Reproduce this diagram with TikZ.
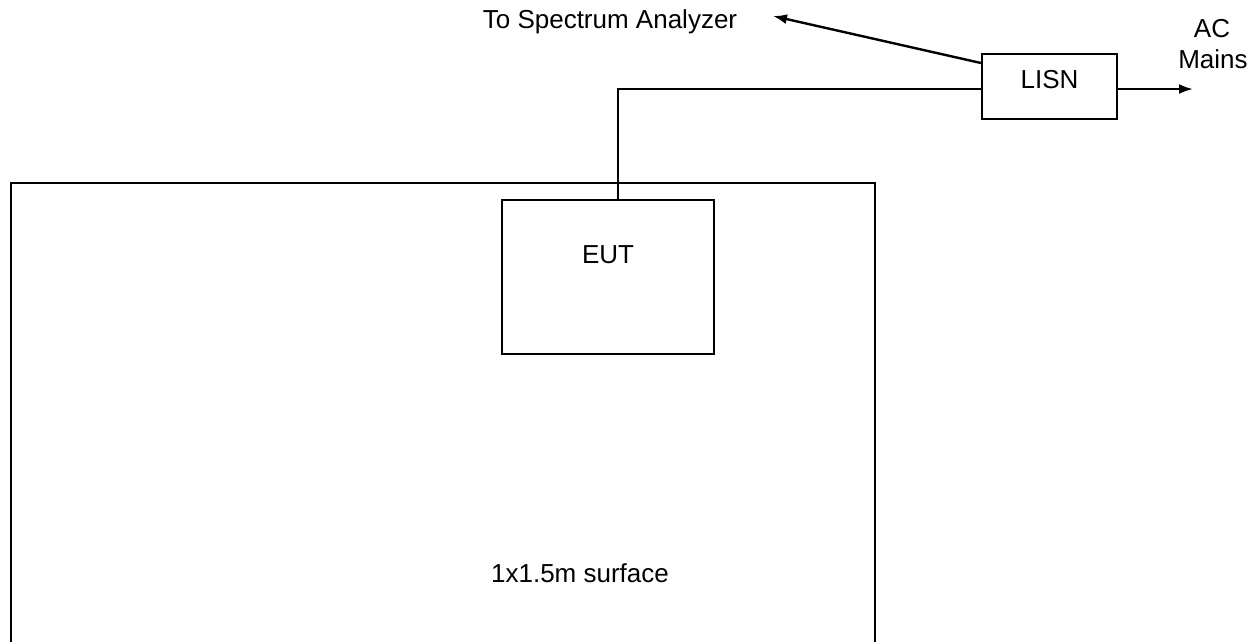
\documentclass[tikz,border=0pt]{standalone}
\usepackage{fontspec}
\setmainfont{Liberation Sans}
\usetikzlibrary{arrows.meta}
\begin{document}
\begin{tikzpicture}[x=1pt,y=-1pt,
  lbl/.style={font=\fontsize{26}{31}\selectfont, inner sep=0pt, anchor=base},
  boxthick/.style={draw, line width=2.6pt, inner sep=0pt},
  boxthin/.style={draw, line width=2.2pt, inner sep=0pt},
  wire/.style={line width=2.2pt},
  arr/.style={line width=2.4pt, -{Latex[length=14pt,width=10pt]}}]
\useasboundingbox (0,0) rectangle (1258,641);
\begin{scope}
\clip (0,0) rectangle (1258,641);
\draw[line width=2.6pt] (11,700) -- (11,183) -- (875,183) -- (875,700);
\end{scope}
\node[lbl] (surf) at (580,582) {1x1.5m surface};
\node[boxthick, minimum width=212pt, minimum height=154pt] (eut) at (608,277) {};
\node[lbl] (euttxt) at (608,263) {EUT};
\node[boxthin, minimum width=135pt, minimum height=65pt] (lisn) at (1049.5,86.5) {};
\node[lbl] (lisntxt) at (1049.5,88) {LISN};
\node[lbl] (sa) at (610,28) {To Spectrum Analyzer};
\coordinate (satip) at (773,16);
\node[lbl] (ac) at (1212,37) {AC};
\node[lbl] (mains) at (1213,68) {Mains};
\coordinate (actip) at (1193,89);
\draw[wire] ([xshift=10pt]eut.north) |- ([yshift=-2.5pt]lisn.west);
\draw[arr] ([yshift=23.5pt]lisn.west) -- (satip);
\draw[arr] ([yshift=-2.5pt]lisn.east) -- (actip);
\end{tikzpicture}
\end{document}
